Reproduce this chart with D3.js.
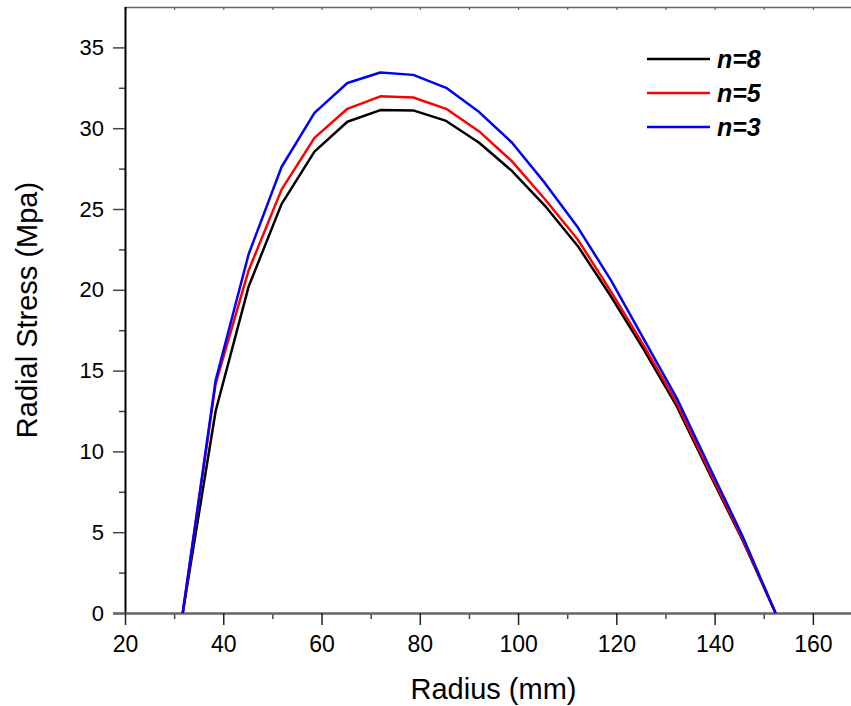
<!DOCTYPE html>
<html>
<head>
<meta charset="utf-8">
<script src="https://cdn.jsdelivr.net/npm/d3@7"></script>
<style>
  body { margin: 0; background: #fff; }
  svg { display: block; font-family: "Liberation Sans", Arial, sans-serif; }
</style>
</head>
<body>
<div id="vis"></div>
<script>
// radius values (mm) where the stress was computed
var radius = [31.75, 38.45, 45.16, 51.86, 58.56, 65.26, 71.97, 78.67, 85.37, 92.08,
              98.78, 105.48, 112.18, 118.89, 125.59, 132.29, 139.0, 145.7, 152.4];

// radial stress (Mpa) for each n
var stressN8 = [0, 12.5, 20.2, 25.3, 28.55, 30.4, 31.12, 31.1, 30.45, 29.1,
                27.35, 25.2, 22.7, 19.6, 16.3, 12.8, 8.6, 4.5, 0];
var stressN5 = [0, 14.2, 21.2, 26.2, 29.4, 31.2, 31.97, 31.9, 31.2, 29.8,
                27.95, 25.6, 23.1, 19.9, 16.55, 13.0, 8.75, 4.6, 0];
var stressN3 = [0, 14.4, 22.2, 27.6, 30.95, 32.8, 33.45, 33.3, 32.5, 31.0,
                29.1, 26.6, 23.85, 20.6, 16.95, 13.3, 9.0, 4.75, 0];

var seriesNames = ['n=8', 'n=5', 'n=3'];
var seriesColors = ['#000000', '#ff0000', '#0000ff'];
var xTicks = [20, 40, 60, 80, 100, 120, 140, 160];
var yTicks = [0, 5, 10, 15, 20, 25, 30, 35];

var width = 851;
var height = 706;
var margin = { top: 7, left: 125, bottom: 93, right: -11 };

var svg = d3.select('#vis').append('svg')
  .attr('width', width)
  .attr('height', height);

var x = d3.scaleLinear()
  .domain([20, 170])
  .range([margin.left, width - margin.right]);

var y = d3.scaleLinear()
  .domain([0, 37.5])
  .range([height - margin.bottom, margin.top]);

// top frame line with small inward ticks
svg.append('g')
  .attr('transform', 'translate(0,' + y(37.5) + ')')
  .call(d3.axisTop(x).tickValues(d3.range(20, 171, 10)).tickSize(-3).tickFormat(''))
  .call(function (g) {
    g.select('.domain').attr('stroke', '#666').attr('stroke-width', 1.5);
    g.selectAll('.tick line').attr('stroke', '#666').attr('stroke-width', 1.2);
  });

// y axis minor ticks
svg.append('g')
  .attr('transform', 'translate(' + margin.left + ',0)')
  .call(d3.axisLeft(y).tickValues(d3.range(2.5, 37.5, 5)).tickSize(6).tickFormat(''))
  .call(function (g) {
    g.select('.domain').remove();
    g.selectAll('.tick line').attr('stroke', '#444').attr('stroke-width', 1.5);
  });

// y axis
svg.append('g')
  .attr('transform', 'translate(' + margin.left + ',0)')
  .call(d3.axisLeft(y).tickValues(yTicks).tickSize(12).tickPadding(9))
  .call(function (g) {
    g.select('.domain').attr('stroke', '#000').attr('stroke-width', 2)
      .attr('d', 'M0.5,' + y(0) + 'V' + y(37.5));
    g.selectAll('.tick line').attr('stroke', '#444').attr('stroke-width', 1.5);
    g.selectAll('.tick text').attr('font-size', 22).attr('fill', '#000')
      .attr('font-family', '"Liberation Sans", Arial, sans-serif');
  });

// x axis minor ticks
svg.append('g')
  .attr('transform', 'translate(0,' + y(0) + ')')
  .call(d3.axisBottom(x).tickValues(d3.range(30, 171, 20)).tickSize(6).tickFormat(''))
  .call(function (g) {
    g.select('.domain').remove();
    g.selectAll('.tick line').attr('stroke', '#444').attr('stroke-width', 1.5);
  });

// x axis
svg.append('g')
  .attr('transform', 'translate(0,' + y(0) + ')')
  .call(d3.axisBottom(x).tickValues(xTicks).tickSize(12).tickPadding(11))
  .call(function (g) {
    g.select('.domain').attr('stroke', '#666').attr('stroke-width', 2.5)
      .attr('d', 'M' + (margin.left - 12) + ',0.5H' + width);
    g.selectAll('.tick line').attr('stroke', '#222').attr('stroke-width', 1.5);
    g.selectAll('.tick text').attr('font-size', 23).attr('fill', '#000')
      .attr('font-family', '"Liberation Sans", Arial, sans-serif');
  });

// data lines
var allSeries = [stressN8, stressN5, stressN3];
var line = d3.line()
  .x(function (d, i) { return x(radius[i]); })
  .y(function (d) { return y(d); });

svg.append('g').selectAll('path')
  .data(allSeries)
  .enter().append('path')
  .attr('d', line)
  .attr('fill', 'none')
  .attr('stroke', function (d, i) { return seriesColors[i]; })
  .attr('stroke-width', 2.5)
  .attr('stroke-linejoin', 'round');

// legend
var legend = svg.append('g').attr('transform', 'translate(647,59)');
seriesNames.forEach(function (name, i) {
  legend.append('line')
    .attr('x1', 0).attr('x2', 63)
    .attr('y1', i * 34).attr('y2', i * 34)
    .attr('stroke', seriesColors[i])
    .attr('stroke-width', 2.5);
  legend.append('text')
    .attr('x', 70)
    .attr('y', i * 34 + 9)
    .attr('font-size', 25)
    .attr('font-weight', 'bold')
    .attr('font-style', 'italic')
    .text(name);
});

// axis titles
svg.append('text')
  .attr('x', x(95))
  .attr('y', 699)
  .attr('text-anchor', 'middle')
  .attr('font-size', 29)
  .text('Radius (mm)');

svg.append('text')
  .attr('transform', 'translate(37,' + ((y(0) + y(37.5)) / 2) + ') rotate(-90)')
  .attr('text-anchor', 'middle')
  .attr('font-size', 29)
  .text('Radial Stress (Mpa)');
</script>
</body>
</html>
